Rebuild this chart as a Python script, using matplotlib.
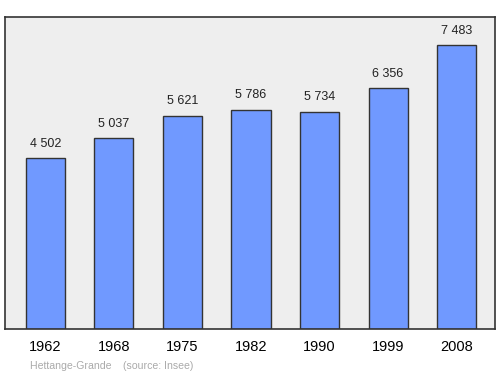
import matplotlib
matplotlib.use('Agg')
import matplotlib.pyplot as plt

plt.rcParams['font.family'] = ['Liberation Sans', 'DejaVu Sans']

years = ['1962', '1968', '1975', '1982', '1990', '1999', '2008']
population = [4502, 5037, 5621, 5786, 5734, 6356, 7483]

fig = plt.figure(figsize=(5, 3.74), dpi=100, facecolor='white')
ax = fig.add_axes([0.01, 0.1203, 0.98, 0.8342])
ax.set_facecolor('#eeeeee')

x = range(len(years))
ax.bar(x, population, width=0.57, color='#7099ff', edgecolor='#333333', linewidth=1, zorder=2)

for i, v in enumerate(population):
    label = f'{v:,}'.replace(',', ' ')
    ax.annotate(label, (i, v), xytext=(0, 6), textcoords='offset points',
                ha='center', va='bottom', fontsize=9, color='#222222')

ax.set_xlim(-0.59, 6.56)
ax.set_ylim(0, 8225)
ax.set_yticks([])
ax.set_xticks(list(x))
ax.set_xticklabels(years, fontsize=10.5)
ax.tick_params(axis='x', length=0, pad=8)
for s in ax.spines.values():
    s.set_color('#333333')
    s.set_linewidth(1.2)

fig.text(0.06, 0.008, 'Hettange-Grande    (source: Insee)', fontsize=7.6, color='#aaaaaa',
         ha='left', va='bottom')

fig.savefig('out.png', dpi=100, facecolor='white')
